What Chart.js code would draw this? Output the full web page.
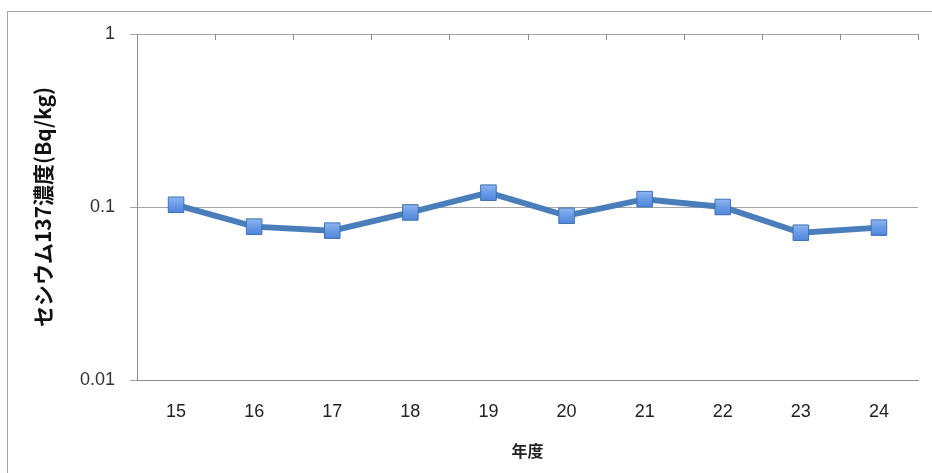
<!DOCTYPE html>
<html><head><meta charset="utf-8">
<script src="https://cdn.jsdelivr.net/npm/chart.js@4"></script>
<style>
html,body{margin:0;padding:0;background:#fff;}
#wrap{position:relative;width:932px;height:473px;}
#frame{position:absolute;left:7px;top:11px;width:940px;height:480px;border:1px solid #a6a6a6;box-sizing:border-box;pointer-events:none;}
canvas{position:absolute;left:0;top:0;}
</style></head>
<body><div id="wrap"><canvas id="c" width="932" height="473"></canvas><div id="frame"></div></div>
<script>
const categories = ['15','16','17','18','19','20','21','22','23','24'];
const cesiumValues = [0.103, 0.077, 0.073, 0.093, 0.121, 0.089, 0.111, 0.100, 0.071, 0.076];
const yTickValues = [0.01, 0.1, 1];
const yTitle = 'セシウム137濃度(Bq/kg)';
const xTitle = '年度';

const topTicks = {
  id: 'topTicks',
  afterDatasetsDraw(chart) {
    const x = chart.scales.x, a = chart.chartArea, ctx = chart.ctx;
    ctx.save();
    ctx.strokeStyle = '#8c8c8c'; ctx.lineWidth = 1;
    for (let i = 1; i <= categories.length; i++) {
      const px = Math.round(x.getPixelForValue(i - 0.5)) + 0.5;
      ctx.beginPath(); ctx.moveTo(px, a.top); ctx.lineTo(px, a.top + 6); ctx.stroke();
    }
    ctx.restore();
  }
};

function markerFill(c) {
  const el = c.element;
  if (!el || el.y === undefined || isNaN(el.y)) return '#6a9be4';
  const g = c.chart.ctx.createLinearGradient(0, el.y - 8, 0, el.y + 8);
  g.addColorStop(0, '#8fb6ef');
  g.addColorStop(0.5, '#6a9be6');
  g.addColorStop(1, '#4f86dc');
  return g;
}

new Chart(document.getElementById('c'), {
  type: 'line',
  data: {
    labels: categories,
    datasets: [{
      data: cesiumValues,
      borderColor: '#4a7ebb',
      borderWidth: 6,
      pointStyle: 'rect',
      pointRadius: 11,
      pointHoverRadius: 11,
      pointBackgroundColor: markerFill,
      pointBorderColor: '#3f70b0',
      pointBorderWidth: 1,
      tension: 0
    }]
  },
  options: {
    responsive: false,
    animation: false,
    layout: { padding: { left: 0, top: 34, right: 14, bottom: 0 } },
    plugins: { legend: { display: false }, tooltip: { enabled: false } },
    scales: {
      x: {
        type: 'category',
        offset: true,
        grid: { display: false, drawTicks: false },
        border: { display: true, color: '#8c8c8c', width: 1 },
        ticks: { color: '#222', padding: 21, font: { family: 'Liberation Sans Narrow, Liberation Sans', size: 18 } },
        title: { display: true, text: xTitle, color: '#222', padding: { top: 0, bottom: 12 }, font: { family: 'Noto Sans CJK JP', size: 16, weight: 'bold' } },
        afterFit(s) { s.height = 93; }
      },
      y: {
        type: 'logarithmic',
        min: 0.01, max: 1,
        afterBuildTicks(s) { s.ticks = yTickValues.map(v => ({ value: v })); },
        grid: { color: '#a6a6a6', lineWidth: 1, tickLength: 7, drawTicks: true },
        border: { display: true, color: '#8c8c8c', width: 1 },
        ticks: { color: '#333', padding: 15, font: { family: 'Liberation Sans', size: 18 },
          callback: (v) => String(v) },
        title: { display: true, text: yTitle, color: '#111', padding: { top: 30, bottom: 0 }, font: { family: 'Noto Sans CJK JP', size: 21, weight: 'bold' } },
        afterFit(s) { s.width = 137; }
      }
    }
  },
  plugins: [topTicks]
});
</script></body></html>
